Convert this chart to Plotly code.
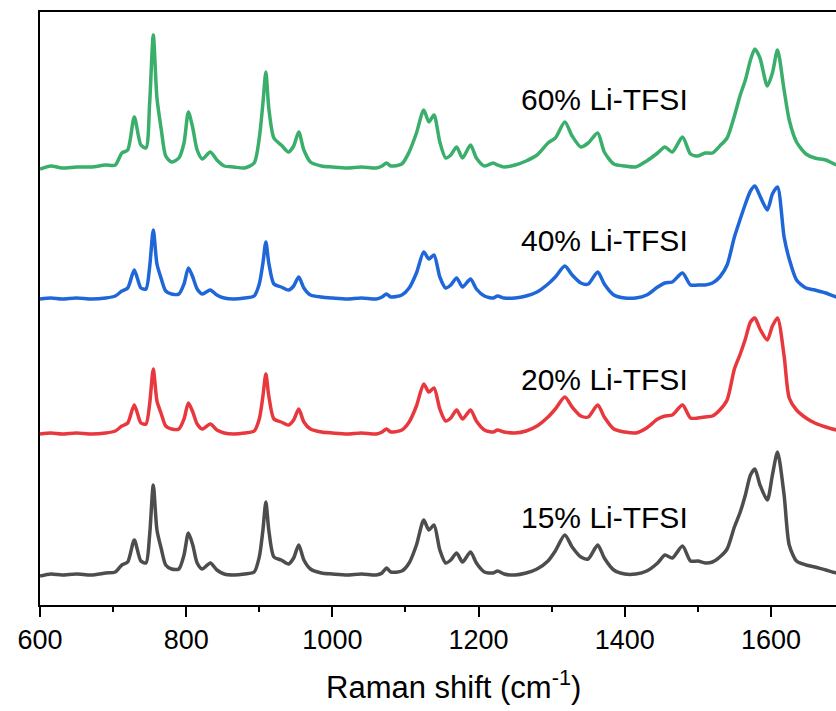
import plotly.graph_objects as go

# Raman shift grid (cm^-1)
wavenumber = [600, 615, 630, 650, 670, 690, 703, 712, 720, 729, 738, 745, 750, 755, 760, 766, 772, 780, 790, 797,
              803, 809, 815, 822, 833, 842, 852, 865, 880, 893, 900, 905, 909, 913, 920, 930, 940, 947, 954, 961,
              970, 985, 1000, 1020, 1040, 1060, 1068, 1074, 1080, 1095, 1105, 1115, 1125, 1132, 1139, 1147, 1155,
              1162, 1170, 1178, 1189, 1197, 1208, 1220, 1226, 1235, 1250, 1265, 1280, 1295, 1305, 1318, 1328,
              1340, 1350, 1363, 1372, 1385, 1400, 1415, 1430, 1445, 1455, 1465, 1479, 1490, 1500, 1510, 1520,
              1530, 1540, 1550, 1558, 1565, 1572, 1578, 1585, 1595, 1602, 1609, 1618, 1625, 1635, 1648, 1660,
              1675, 1690, 1710]

# Relative intensities (a.u.) for each concentration
int_15 = [-1, 1, 0, 1, 0, 2, 3, 10, 13, 35, 14, 12, 40, 90, 45, 26, 10, 6, 6, 20,
          42, 30, 12, 6, 12, 5, 1, 0, 1, 3, 18, 45, 73, 45, 18, 15, 11, 17, 30, 15,
          6, 2, 1, 0, 1, 0, 2, 7, 3, 4, 12, 30, 55, 45, 50, 25, 12,
          15, 22, 13, 23, 12, 3, 2, 4, 1, 0, 2, 6, 14, 24, 40, 28,
          18, 16, 30, 17, 5, 1, 1, 4, 12, 20, 17, 29, 14, 14, 12, 13,
          18, 26, 48, 63, 80, 100, 106, 90, 75, 100, 123, 80, 30, 14, 10, 8,
          5, 2, 2]
int_20 = [0, 1, 0, 1, 0, 1, 3, 8, 11, 29, 11, 10, 30, 65, 33, 20, 8, 5, 5, 15,
          31, 22, 10, 5, 10, 4, 1, 0, 1, 3, 15, 38, 60, 38, 15, 12, 9, 14, 25, 12,
          5, 2, 1, 0, 1, 0, 2, 5, 2, 4, 12, 28, 50, 42, 46, 25, 13,
          16, 24, 15, 24, 13, 4, 2, 4, 2, 1, 3, 8, 17, 25, 37, 27,
          18, 17, 29, 17, 5, 2, 1, 6, 15, 18, 19, 29, 16, 16, 17, 18,
          24, 34, 65, 80, 95, 112, 116, 105, 94, 108, 116, 78, 36, 24, 16, 11,
          7, 4, 3]
int_40 = [0, 1, 0, 1, 0, 1, 3, 8, 11, 29, 11, 10, 32, 69, 35, 20, 8, 5, 5, 15,
          31, 22, 10, 5, 9, 4, 1, 0, 1, 3, 15, 36, 57, 36, 15, 12, 9, 13, 22, 11,
          4, 2, 1, 0, 1, 0, 2, 5, 2, 4, 11, 26, 47, 40, 44, 22, 11,
          14, 21, 12, 20, 10, 3, 1, 3, 1, 1, 3, 7, 15, 22, 33, 24,
          16, 15, 27, 15, 4, 1, 1, 4, 12, 16, 17, 26, 14, 14, 14, 16,
          22, 34, 62, 80, 95, 108, 113, 103, 89, 105, 112, 62, 40, 19, 11, 9,
          6, 2, 1]
int_60 = [-1, 2, 0, 1, 1, 3, 3, 15, 18, 51, 23, 20, 65, 133, 70, 38, 12, 6, 10, 25,
          56, 40, 18, 9, 16, 8, 2, 1, 0, 5, 30, 65, 96, 60, 30, 23, 16, 22, 36, 18,
          6, 2, 1, 0, 1, 0, 2, 5, 2, 4, 16, 35, 58, 46, 53, 26, 10,
          13, 21, 10, 23, 10, 2, 5, 3, 1, 3, 7, 13, 25, 30, 46, 32,
          21, 25, 35, 16, 4, 2, 1, 7, 15, 21, 16, 31, 14, 12, 15, 15,
          22, 30, 52, 73, 88, 108, 119, 110, 82, 95, 118, 78, 48, 26, 14, 10,
          8, 3, 2]

series_names = ["15% Li-TFSI", "20% Li-TFSI", "40% Li-TFSI", "60% Li-TFSI"]
series_values = [int_15, int_20, int_40, int_60]
series_offsets = [30, 171, 306, 437]
series_colors = ["#4d4d4d", "#e8383d", "#1f66d8", "#3aae6b"]

x_ticks = [600, 800, 1000, 1200, 1400, 1600]

fig = go.Figure()
for name, vals, off, col in zip(series_names, series_values, series_offsets, series_colors):
    fig.add_trace(go.Scatter(
        x=wavenumber, y=[v + off for v in vals], mode="lines", name=name,
        line=dict(color=col, width=3.5, shape="spline", smoothing=0.7),
        showlegend=False,
    ))

label_y = [0.148, 0.381, 0.614, 0.853]
for name, ly in zip(series_names, label_y):
    fig.add_annotation(text=name, x=0.709, y=ly, xref="paper", yref="paper",
                       xanchor="center", yanchor="middle", showarrow=False,
                       font=dict(family="Liberation Sans, Arial", size=30, color="black"))

fig.add_annotation(text="Raman shift (cm<sup>-1</sup>)", x=0.52, y=-0.135, xref="paper", yref="paper",
                   xanchor="center", yanchor="middle", showarrow=False,
                   font=dict(family="Liberation Sans, Arial", size=31, color="black"))

fig.update_layout(
    width=836, height=711,
    margin=dict(l=40, r=0, t=12, b=106),
    paper_bgcolor="white", plot_bgcolor="white",
    font=dict(family="Liberation Sans, Arial", color="black"),
    xaxis=dict(range=[600, 1689], tickvals=x_ticks, ticktext=[str(t) for t in x_ticks],
               showline=True, linecolor="black", linewidth=2, mirror=True,
               ticks="outside", ticklen=10, tickwidth=2, tickcolor="black",
               minor=dict(dtick=100, tick0=600, ticks="outside", ticklen=5, tickwidth=2, tickcolor="black"),
               showgrid=False, zeroline=False, tickfont=dict(size=27)),
    yaxis=dict(range=[0, 593], showline=True, linecolor="black", linewidth=2, mirror=False,
               showticklabels=False, ticks="", showgrid=False, zeroline=False),
)

fig.write_html("out.html")
